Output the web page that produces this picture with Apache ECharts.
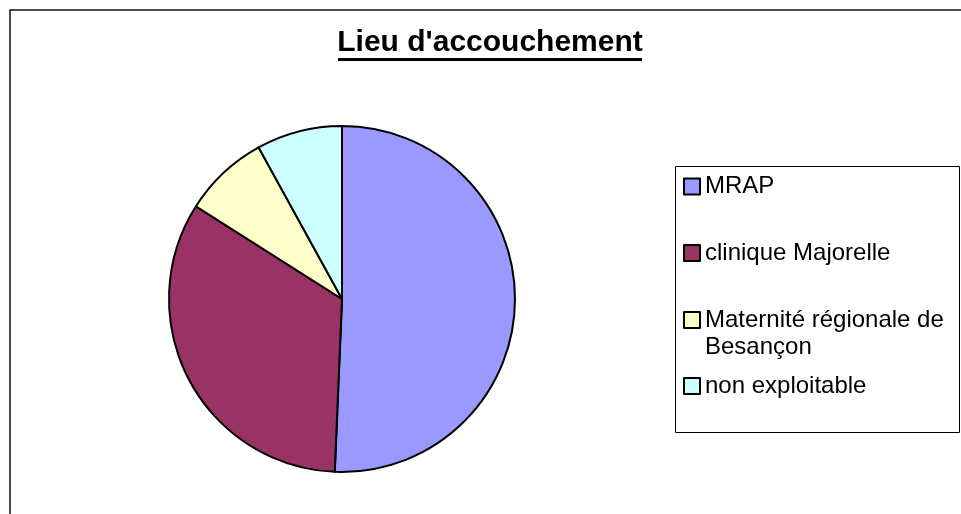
<!DOCTYPE html>
<html lang="fr">
<head>
<meta charset="UTF-8">
<title>Lieu d'accouchement</title>
<script src="https://cdn.jsdelivr.net/npm/echarts@6/dist/echarts.min.js"></script>
<style>
  html, body { margin: 0; padding: 0; background: #fff; }
  #chart { width: 961px; height: 514px; }
</style>
</head>
<body>
<div id="chart"></div>
<script>
// données
var places = ['MRAP', 'clinique Majorelle', 'Maternité régionale de Besançon', 'non exploitable'];
var births = [38, 25, 6, 6];
var sliceColors = ['#9999FF', '#993366', '#FFFFCC', '#CCFFFF'];

var chart = echarts.init(document.getElementById('chart'));
var font = 'Liberation Sans, Arial, sans-serif';

// une légende par entrée, pour placer chaque ligne comme dans Excel
var legendTops = [173, 239.5, 279.5, 372.5];
var legends = places.map(function (name, i) {
  return {
    data: [name],
    orient: 'vertical',
    left: 683,
    top: legendTops[i],
    padding: 0,
    itemWidth: 16,
    itemHeight: 16,
    icon: 'rect',
    selectedMode: false,
    itemStyle: { borderColor: '#000', borderWidth: 2 },
    formatter: function (n) {
      // ligne vide devant : le carré reste aligné sur la 1re ligne
      if (n.indexOf('de Besançon') > -1) {
        return '\n' + n.replace('de Besançon', 'de\nBesançon');
      }
      return n;
    },
    textStyle: {
      fontFamily: font,
      fontSize: 24,
      lineHeight: 27,
      color: '#000'
    }
  };
});

var option = {
  animation: false,
  backgroundColor: '#fff',
  title: {
    text: "Lieu d'accouchement",
    left: 490,
    textAlign: 'center',
    top: 28,
    padding: 0,
    textStyle: {
      fontFamily: font,
      fontWeight: 'bold',
      fontSize: 30,
      color: '#000'
    }
  },
  legend: legends,
  graphic: [
    { type: 'rect', silent: true, z: -1,
      shape: { x: 10, y: 10, width: 2000, height: 2000 },
      style: { fill: 'none', stroke: '#111', lineWidth: 1.5 } },
    { type: 'rect', silent: true,
      shape: { x: 338, y: 58, width: 304, height: 3 },
      style: { fill: '#000' } },
    { type: 'rect', silent: true,
      shape: { x: 675.5, y: 166.5, width: 284, height: 266 },
      style: { fill: 'none', stroke: '#000', lineWidth: 1 } }
  ],
  series: [{
    type: 'pie',
    center: [342, 299],
    radius: 173,
    startAngle: 90,
    clockwise: true,
    label: { show: false },
    labelLine: { show: false },
    emphasis: { disabled: true },
    itemStyle: { borderColor: '#000', borderWidth: 2 },
    data: places.map(function (name, i) {
      return { name: name, value: births[i], itemStyle: { color: sliceColors[i] } };
    })
  }]
};

chart.setOption(option);
</script>
</body>
</html>
